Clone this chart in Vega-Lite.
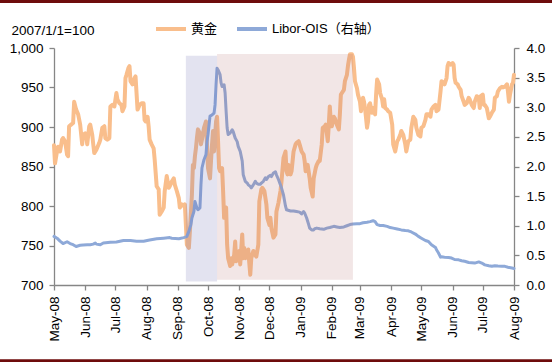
{
  "$schema": "https://vega.github.io/schema/vega-lite/v6.json",
  "width": 460,
  "height": 237,
  "autosize": {"type": "none"},
  "padding": {"left": 54, "top": 48, "right": 38, "bottom": 77},
  "background": "white",
  "config": {
    "view": {"stroke": null},
    "axis": {"labelFont": "Liberation Sans", "labelFontSize": 13.5, "labelColor": "#000000", "domainColor": "#868686", "tickColor": "#868686", "grid": false, "tickSize": 5, "domainWidth": 1.3, "tickWidth": 1.3}
  },
  "datasets": {
    "gold": [
      {"date":"2008-05-01","gold":877},{"date":"2008-05-02","gold":854},{"date":"2008-05-04","gold":869},{"date":"2008-05-05","gold":875},{"date":"2008-05-07","gold":869},{"date":"2008-05-09","gold":884},{"date":"2008-05-10","gold":886},{"date":"2008-05-12","gold":882},{"date":"2008-05-14","gold":865},{"date":"2008-05-15","gold":863},{"date":"2008-05-16","gold":901},{"date":"2008-05-18","gold":903},{"date":"2008-05-20","gold":905},{"date":"2008-05-21","gold":932},{"date":"2008-05-23","gold":922},{"date":"2008-05-25","gold":916},{"date":"2008-05-27","gold":903},{"date":"2008-05-29","gold":878},{"date":"2008-05-30","gold":890},
      {"date":"2008-06-01","gold":892},{"date":"2008-06-02","gold":890},{"date":"2008-06-03","gold":878},{"date":"2008-06-05","gold":901},{"date":"2008-06-06","gold":903},{"date":"2008-06-08","gold":890},{"date":"2008-06-09","gold":878},{"date":"2008-06-10","gold":867},{"date":"2008-06-12","gold":871},{"date":"2008-06-15","gold":880},{"date":"2008-06-16","gold":884},{"date":"2008-06-18","gold":899},{"date":"2008-06-20","gold":901},{"date":"2008-06-21","gold":886},{"date":"2008-06-23","gold":884},{"date":"2008-06-25","gold":886},{"date":"2008-06-26","gold":926},{"date":"2008-06-28","gold":928},{"date":"2008-06-30","gold":926},
      {"date":"2008-07-02","gold":943},{"date":"2008-07-03","gold":935},{"date":"2008-07-05","gold":930},{"date":"2008-07-07","gold":928},{"date":"2008-07-08","gold":920},{"date":"2008-07-10","gold":926},{"date":"2008-07-11","gold":962},{"date":"2008-07-12","gold":966},{"date":"2008-07-14","gold":975},{"date":"2008-07-15","gold":977},{"date":"2008-07-16","gold":958},{"date":"2008-07-18","gold":954},{"date":"2008-07-20","gold":962},{"date":"2008-07-21","gold":964},{"date":"2008-07-23","gold":922},{"date":"2008-07-25","gold":928},{"date":"2008-07-27","gold":930},{"date":"2008-07-29","gold":930},{"date":"2008-07-30","gold":909},{"date":"2008-07-31","gold":907},
      {"date":"2008-08-02","gold":913},{"date":"2008-08-03","gold":901},{"date":"2008-08-04","gold":884},{"date":"2008-08-06","gold":878},{"date":"2008-08-08","gold":873},{"date":"2008-08-09","gold":859},{"date":"2008-08-11","gold":825},{"date":"2008-08-13","gold":821},{"date":"2008-08-14","gold":789},{"date":"2008-08-16","gold":793},{"date":"2008-08-18","gold":798},{"date":"2008-08-19","gold":819},{"date":"2008-08-21","gold":838},{"date":"2008-08-23","gold":823},{"date":"2008-08-24","gold":825},{"date":"2008-08-26","gold":831},{"date":"2008-08-28","gold":835},{"date":"2008-08-29","gold":827},{"date":"2008-08-31","gold":819},
      {"date":"2008-09-02","gold":810},{"date":"2008-09-03","gold":798},{"date":"2008-09-05","gold":802},{"date":"2008-09-07","gold":800},{"date":"2008-09-08","gold":802},{"date":"2008-09-10","gold":751},{"date":"2008-09-12","gold":747},{"date":"2008-09-13","gold":768},{"date":"2008-09-15","gold":814},{"date":"2008-09-16","gold":852},{"date":"2008-09-17","gold":848},{"date":"2008-09-18","gold":863},{"date":"2008-09-19","gold":873},{"date":"2008-09-20","gold":886},{"date":"2008-09-21","gold":897},{"date":"2008-09-23","gold":892},{"date":"2008-09-24","gold":878},{"date":"2008-09-25","gold":884},{"date":"2008-09-27","gold":899},{"date":"2008-09-29","gold":907},{"date":"2008-09-30","gold":878},
      {"date":"2008-10-01","gold":848},{"date":"2008-10-03","gold":835},{"date":"2008-10-04","gold":857},{"date":"2008-10-05","gold":878},{"date":"2008-10-06","gold":895},{"date":"2008-10-07","gold":869},{"date":"2008-10-09","gold":907},{"date":"2008-10-10","gold":913},{"date":"2008-10-11","gold":882},{"date":"2008-10-12","gold":848},{"date":"2008-10-13","gold":844},{"date":"2008-10-15","gold":848},{"date":"2008-10-16","gold":819},{"date":"2008-10-17","gold":785},{"date":"2008-10-19","gold":798},{"date":"2008-10-20","gold":751},{"date":"2008-10-21","gold":734},{"date":"2008-10-23","gold":724},{"date":"2008-10-24","gold":734},{"date":"2008-10-25","gold":726},{"date":"2008-10-27","gold":738},{"date":"2008-10-28","gold":755},{"date":"2008-10-29","gold":730},{"date":"2008-10-31","gold":734},
      {"date":"2008-11-01","gold":743},{"date":"2008-11-02","gold":726},{"date":"2008-11-04","gold":764},{"date":"2008-11-05","gold":734},{"date":"2008-11-06","gold":747},{"date":"2008-11-07","gold":734},{"date":"2008-11-09","gold":738},{"date":"2008-11-10","gold":745},{"date":"2008-11-11","gold":728},{"date":"2008-11-12","gold":713},{"date":"2008-11-13","gold":734},{"date":"2008-11-15","gold":743},{"date":"2008-11-17","gold":738},{"date":"2008-11-18","gold":736},{"date":"2008-11-20","gold":751},{"date":"2008-11-21","gold":806},{"date":"2008-11-23","gold":821},{"date":"2008-11-24","gold":823},{"date":"2008-11-26","gold":819},{"date":"2008-11-28","gold":802},{"date":"2008-11-29","gold":785},
      {"date":"2008-12-01","gold":776},{"date":"2008-12-02","gold":785},{"date":"2008-12-03","gold":772},{"date":"2008-12-05","gold":760},{"date":"2008-12-07","gold":764},{"date":"2008-12-08","gold":793},{"date":"2008-12-10","gold":804},{"date":"2008-12-12","gold":819},{"date":"2008-12-13","gold":831},{"date":"2008-12-15","gold":861},{"date":"2008-12-17","gold":869},{"date":"2008-12-18","gold":844},{"date":"2008-12-19","gold":840},{"date":"2008-12-20","gold":852},{"date":"2008-12-22","gold":840},{"date":"2008-12-23","gold":844},{"date":"2008-12-25","gold":869},{"date":"2008-12-27","gold":878},{"date":"2008-12-28","gold":880},{"date":"2008-12-30","gold":882},{"date":"2008-12-31","gold":878},
      {"date":"2009-01-02","gold":869},{"date":"2009-01-04","gold":865},{"date":"2009-01-05","gold":857},{"date":"2009-01-06","gold":844},{"date":"2009-01-08","gold":852},{"date":"2009-01-10","gold":835},{"date":"2009-01-11","gold":823},{"date":"2009-01-13","gold":812},{"date":"2009-01-14","gold":835},{"date":"2009-01-16","gold":848},{"date":"2009-01-17","gold":852},{"date":"2009-01-19","gold":857},{"date":"2009-01-20","gold":857},{"date":"2009-01-22","gold":878},{"date":"2009-01-23","gold":899},{"date":"2009-01-25","gold":901},{"date":"2009-01-26","gold":903},{"date":"2009-01-28","gold":882},{"date":"2009-01-29","gold":903},{"date":"2009-01-30","gold":926},{"date":"2009-01-31","gold":907},
      {"date":"2009-02-01","gold":901},{"date":"2009-02-03","gold":913},{"date":"2009-02-04","gold":911},{"date":"2009-02-06","gold":903},{"date":"2009-02-08","gold":897},{"date":"2009-02-09","gold":916},{"date":"2009-02-10","gold":941},{"date":"2009-02-11","gold":943},{"date":"2009-02-13","gold":947},{"date":"2009-02-14","gold":958},{"date":"2009-02-16","gold":966},{"date":"2009-02-17","gold":977},{"date":"2009-02-18","gold":985},{"date":"2009-02-19","gold":992},{"date":"2009-02-21","gold":992},{"date":"2009-02-22","gold":989},{"date":"2009-02-23","gold":975},{"date":"2009-02-24","gold":958},{"date":"2009-02-26","gold":949},{"date":"2009-02-27","gold":941},
      {"date":"2009-03-01","gold":932},{"date":"2009-03-02","gold":920},{"date":"2009-03-04","gold":937},{"date":"2009-03-05","gold":932},{"date":"2009-03-06","gold":924},{"date":"2009-03-08","gold":899},{"date":"2009-03-09","gold":907},{"date":"2009-03-10","gold":928},{"date":"2009-03-11","gold":930},{"date":"2009-03-13","gold":918},{"date":"2009-03-14","gold":924},{"date":"2009-03-16","gold":916},{"date":"2009-03-17","gold":941},{"date":"2009-03-18","gold":960},{"date":"2009-03-20","gold":954},{"date":"2009-03-21","gold":943},{"date":"2009-03-23","gold":935},{"date":"2009-03-24","gold":926},{"date":"2009-03-25","gold":935},{"date":"2009-03-26","gold":924},{"date":"2009-03-28","gold":922},{"date":"2009-03-29","gold":920},{"date":"2009-03-31","gold":918},
      {"date":"2009-04-02","gold":903},{"date":"2009-04-03","gold":878},{"date":"2009-04-05","gold":869},{"date":"2009-04-07","gold":882},{"date":"2009-04-08","gold":884},{"date":"2009-04-10","gold":890},{"date":"2009-04-11","gold":895},{"date":"2009-04-13","gold":890},{"date":"2009-04-15","gold":878},{"date":"2009-04-16","gold":869},{"date":"2009-04-18","gold":882},{"date":"2009-04-20","gold":884},{"date":"2009-04-21","gold":899},{"date":"2009-04-23","gold":913},{"date":"2009-04-25","gold":909},{"date":"2009-04-26","gold":899},{"date":"2009-04-28","gold":890},{"date":"2009-04-30","gold":888},
      {"date":"2009-05-01","gold":899},{"date":"2009-05-03","gold":901},{"date":"2009-05-05","gold":909},{"date":"2009-05-06","gold":916},{"date":"2009-05-08","gold":916},{"date":"2009-05-10","gold":913},{"date":"2009-05-11","gold":922},{"date":"2009-05-13","gold":926},{"date":"2009-05-15","gold":928},{"date":"2009-05-16","gold":920},{"date":"2009-05-18","gold":922},{"date":"2009-05-20","gold":945},{"date":"2009-05-21","gold":958},{"date":"2009-05-23","gold":956},{"date":"2009-05-24","gold":954},{"date":"2009-05-26","gold":962},{"date":"2009-05-27","gold":977},{"date":"2009-05-28","gold":981},{"date":"2009-05-30","gold":979},
      {"date":"2009-06-01","gold":981},{"date":"2009-06-02","gold":979},{"date":"2009-06-03","gold":962},{"date":"2009-06-04","gold":956},{"date":"2009-06-06","gold":954},{"date":"2009-06-07","gold":951},{"date":"2009-06-09","gold":947},{"date":"2009-06-10","gold":939},{"date":"2009-06-12","gold":932},{"date":"2009-06-13","gold":928},{"date":"2009-06-15","gold":930},{"date":"2009-06-17","gold":937},{"date":"2009-06-18","gold":935},{"date":"2009-06-20","gold":928},{"date":"2009-06-22","gold":924},{"date":"2009-06-23","gold":932},{"date":"2009-06-25","gold":939},{"date":"2009-06-27","gold":937},{"date":"2009-06-28","gold":924},{"date":"2009-06-29","gold":939},
      {"date":"2009-07-01","gold":941},{"date":"2009-07-02","gold":928},{"date":"2009-07-03","gold":928},{"date":"2009-07-05","gold":924},{"date":"2009-07-07","gold":911},{"date":"2009-07-08","gold":913},{"date":"2009-07-10","gold":918},{"date":"2009-07-12","gold":922},{"date":"2009-07-13","gold":937},{"date":"2009-07-15","gold":939},{"date":"2009-07-16","gold":945},{"date":"2009-07-18","gold":949},{"date":"2009-07-20","gold":951},{"date":"2009-07-21","gold":950},{"date":"2009-07-23","gold":951},{"date":"2009-07-25","gold":954},{"date":"2009-07-26","gold":945},{"date":"2009-07-27","gold":932},{"date":"2009-07-28","gold":941},{"date":"2009-07-30","gold":954},{"date":"2009-07-31","gold":956},{"date":"2009-08-01","gold":966}
    ],
    "libor": [
      {"date":"2008-05-01","libor":0.82},{"date":"2008-05-04","libor":0.79},{"date":"2008-05-07","libor":0.74},{"date":"2008-05-10","libor":0.70},{"date":"2008-05-14","libor":0.73},{"date":"2008-05-17","libor":0.70},{"date":"2008-05-20","libor":0.68},{"date":"2008-05-23","libor":0.65},{"date":"2008-05-27","libor":0.67},{"date":"2008-05-30","libor":0.675},
      {"date":"2008-06-03","libor":0.68},{"date":"2008-06-06","libor":0.68},{"date":"2008-06-09","libor":0.69},{"date":"2008-06-11","libor":0.71},{"date":"2008-06-12","libor":0.69},{"date":"2008-06-16","libor":0.68},{"date":"2008-06-19","libor":0.71},{"date":"2008-06-26","libor":0.72},
      {"date":"2008-07-02","libor":0.726},{"date":"2008-07-09","libor":0.75},{"date":"2008-07-16","libor":0.75},{"date":"2008-07-22","libor":0.74},{"date":"2008-07-29","libor":0.74},
      {"date":"2008-08-04","libor":0.76},{"date":"2008-08-11","libor":0.78},{"date":"2008-08-18","libor":0.79},{"date":"2008-08-24","libor":0.80},{"date":"2008-08-26","libor":0.79},
      {"date":"2008-09-02","libor":0.78},{"date":"2008-09-07","libor":0.80},{"date":"2008-09-10","libor":0.82},{"date":"2008-09-12","libor":0.905},{"date":"2008-09-14","libor":1.02},{"date":"2008-09-15","libor":1.13},{"date":"2008-09-17","libor":1.24},{"date":"2008-09-18","libor":1.41},{"date":"2008-09-20","libor":1.30},{"date":"2008-09-21","libor":1.27},{"date":"2008-09-23","libor":1.30},{"date":"2008-09-24","libor":1.69},{"date":"2008-09-25","libor":1.975},{"date":"2008-09-27","libor":2.115},{"date":"2008-09-29","libor":2.2},{"date":"2008-09-30","libor":2.42},
      {"date":"2008-10-01","libor":2.54},{"date":"2008-10-03","libor":2.85},{"date":"2008-10-05","libor":2.87},{"date":"2008-10-07","libor":2.90},{"date":"2008-10-08","libor":3.04},{"date":"2008-10-09","libor":3.38},{"date":"2008-10-10","libor":3.66},{"date":"2008-10-11","libor":3.63},{"date":"2008-10-13","libor":3.55},{"date":"2008-10-14","libor":3.41},{"date":"2008-10-15","libor":3.35},{"date":"2008-10-17","libor":3.38},{"date":"2008-10-18","libor":3.24},{"date":"2008-10-19","libor":2.93},{"date":"2008-10-20","libor":2.65},{"date":"2008-10-21","libor":2.54},{"date":"2008-10-23","libor":2.565},{"date":"2008-10-25","libor":2.62},{"date":"2008-10-26","libor":2.59},{"date":"2008-10-28","libor":2.48},{"date":"2008-10-30","libor":2.42},{"date":"2008-10-31","libor":2.34},
      {"date":"2008-11-02","libor":2.255},{"date":"2008-11-04","libor":2.09},{"date":"2008-11-05","libor":1.86},{"date":"2008-11-07","libor":1.75},{"date":"2008-11-09","libor":1.72},{"date":"2008-11-10","libor":1.69},{"date":"2008-11-12","libor":1.665},{"date":"2008-11-13","libor":1.64},{"date":"2008-11-15","libor":1.69},{"date":"2008-11-17","libor":1.75},{"date":"2008-11-18","libor":1.72},{"date":"2008-11-20","libor":1.70},{"date":"2008-11-22","libor":1.70},{"date":"2008-11-23","libor":1.72},{"date":"2008-11-25","libor":1.75},{"date":"2008-11-27","libor":1.81},{"date":"2008-11-28","libor":1.78},{"date":"2008-11-30","libor":1.83},
      {"date":"2008-12-02","libor":1.85},{"date":"2008-12-03","libor":1.83},{"date":"2008-12-05","libor":1.89},{"date":"2008-12-07","libor":1.91},{"date":"2008-12-08","libor":1.86},{"date":"2008-12-10","libor":1.78},{"date":"2008-12-12","libor":1.69},{"date":"2008-12-13","libor":1.64},{"date":"2008-12-15","libor":1.52},{"date":"2008-12-17","libor":1.33},{"date":"2008-12-18","libor":1.27},{"date":"2008-12-22","libor":1.25},{"date":"2008-12-25","libor":1.25},{"date":"2008-12-28","libor":1.24},{"date":"2008-12-31","libor":1.23},
      {"date":"2009-01-02","libor":1.20},{"date":"2009-01-04","libor":1.24},{"date":"2009-01-05","libor":1.215},{"date":"2009-01-07","libor":1.13},{"date":"2009-01-09","libor":1.02},{"date":"2009-01-10","libor":0.96},{"date":"2009-01-12","libor":0.93},{"date":"2009-01-14","libor":0.93},{"date":"2009-01-15","libor":0.95},{"date":"2009-01-17","libor":0.96},{"date":"2009-01-20","libor":0.95},{"date":"2009-01-24","libor":0.94},{"date":"2009-01-27","libor":0.96},{"date":"2009-01-30","libor":0.97},
      {"date":"2009-02-03","libor":0.99},{"date":"2009-02-06","libor":0.98},{"date":"2009-02-09","libor":0.97},{"date":"2009-02-13","libor":0.98},{"date":"2009-02-16","libor":1.0},{"date":"2009-02-19","libor":1.02},{"date":"2009-02-22","libor":1.03},{"date":"2009-02-26","libor":1.035},
      {"date":"2009-03-01","libor":1.035},{"date":"2009-03-04","libor":1.05},{"date":"2009-03-08","libor":1.06},{"date":"2009-03-11","libor":1.07},{"date":"2009-03-14","libor":1.085},{"date":"2009-03-16","libor":1.07},{"date":"2009-03-18","libor":1.02},{"date":"2009-03-21","libor":1.005},{"date":"2009-03-24","libor":1.005},{"date":"2009-03-28","libor":0.99},{"date":"2009-03-31","libor":0.97},
      {"date":"2009-04-03","libor":0.96},{"date":"2009-04-07","libor":0.945},{"date":"2009-04-11","libor":0.93},{"date":"2009-04-15","libor":0.92},{"date":"2009-04-18","libor":0.915},{"date":"2009-04-21","libor":0.895},{"date":"2009-04-25","libor":0.86},{"date":"2009-04-28","libor":0.82},
      {"date":"2009-05-01","libor":0.79},{"date":"2009-05-05","libor":0.75},{"date":"2009-05-08","libor":0.735},{"date":"2009-05-11","libor":0.68},{"date":"2009-05-15","libor":0.635},{"date":"2009-05-16","libor":0.595},{"date":"2009-05-18","libor":0.54},{"date":"2009-05-20","libor":0.47},{"date":"2009-05-21","libor":0.475},{"date":"2009-05-24","libor":0.47},{"date":"2009-05-28","libor":0.465},{"date":"2009-05-31","libor":0.455},
      {"date":"2009-06-03","libor":0.43},{"date":"2009-06-07","libor":0.425},{"date":"2009-06-10","libor":0.41},{"date":"2009-06-13","libor":0.40},{"date":"2009-06-17","libor":0.38},{"date":"2009-06-20","libor":0.375},{"date":"2009-06-23","libor":0.37},{"date":"2009-06-27","libor":0.39},{"date":"2009-06-30","libor":0.37},
      {"date":"2009-07-03","libor":0.34},{"date":"2009-07-07","libor":0.325},{"date":"2009-07-10","libor":0.315},{"date":"2009-07-13","libor":0.325},{"date":"2009-07-16","libor":0.32},{"date":"2009-07-20","libor":0.315},{"date":"2009-07-23","libor":0.315},{"date":"2009-07-26","libor":0.30},{"date":"2009-07-30","libor":0.287},{"date":"2009-08-01","libor":0.28}
    ]
  },
  "layer": [
    {
      "layer": [
        {
          "data": {"name": "gold"},
          "mark": {"type": "line", "strokeWidth": 4, "strokeJoin": "round", "strokeCap": "round"},
          "encoding": {
            "x": {"field": "date", "type": "temporal", "title": null,
              "scale": {"type": "utc", "domain": [{"year": 2008, "month": 5, "date": 1, "utc": true}, {"year": 2009, "month": 8, "date": 1, "utc": true}]},
              "axis": {"values": [{"year": 2008, "month": 5, "date": 1, "utc": true}, {"year": 2008, "month": 6, "date": 1, "utc": true}, {"year": 2008, "month": 7, "date": 1, "utc": true}, {"year": 2008, "month": 8, "date": 1, "utc": true}, {"year": 2008, "month": 9, "date": 1, "utc": true}, {"year": 2008, "month": 10, "date": 1, "utc": true}, {"year": 2008, "month": 11, "date": 1, "utc": true}, {"year": 2008, "month": 12, "date": 1, "utc": true}, {"year": 2009, "month": 1, "date": 1, "utc": true}, {"year": 2009, "month": 2, "date": 1, "utc": true}, {"year": 2009, "month": 3, "date": 1, "utc": true}, {"year": 2009, "month": 4, "date": 1, "utc": true}, {"year": 2009, "month": 5, "date": 1, "utc": true}, {"year": 2009, "month": 6, "date": 1, "utc": true}, {"year": 2009, "month": 7, "date": 1, "utc": true}, {"year": 2009, "month": 8, "date": 1, "utc": true}], "format": "%b-%y", "labelAngle": -90, "labelPadding": 6, "labelFlush": false, "labelOverlap": false, "labelBound": false}},
            "y": {"field": "gold", "type": "quantitative",
              "scale": {"domain": [700, 1000], "nice": false, "zero": false},
              "axis": {"orient": "left", "values": [700, 750, 800, 850, 900, 950, 1000], "format": ",.0f", "labelPadding": 6, "title": "2007/1/1=100", "titleAngle": 0, "titleAlign": "left", "titleBaseline": "alphabetic", "titleX": -43, "titleY": -14, "titleFont": "Liberation Sans", "titleFontSize": 13.5, "titleFontWeight": "normal", "titleColor": "#000000"}},
            "color": {
              "datum": "黄金",
              "scale": {"domain": ["黄金", "Libor-OIS（右轴）"], "range": ["#F9BE8C", "#8EA9D8"]},
              "legend": {"orient": "none", "legendX": 100, "legendY": -36, "direction": "horizontal", "title": null, "symbolType": "stroke", "symbolSize": 900, "symbolStrokeWidth": 4, "symbolOpacity": 1, "labelFont": "Liberation Sans, Noto Sans CJK SC", "labelFontSize": 13, "labelColor": "#000000", "labelOffset": 3, "columnPadding": 11}
            }
          }
        },
        {
          "data": {"values": [{"date": "2008-03-05", "end": "2009-09-10", "gold": 1059}, {"date": "2008-03-05", "end": "2009-09-10", "gold": 604}]},
          "mark": {"type": "rule", "color": "#6E0C0C", "strokeWidth": 3, "clip": false},
          "encoding": {
            "x": {"field": "date", "type": "temporal", "title": null,
              "scale": {"type": "utc", "domain": [{"year": 2008, "month": 5, "date": 1, "utc": true}, {"year": 2009, "month": 8, "date": 1, "utc": true}]},
              "axis": {"values": [{"year": 2008, "month": 5, "date": 1, "utc": true}, {"year": 2008, "month": 6, "date": 1, "utc": true}, {"year": 2008, "month": 7, "date": 1, "utc": true}, {"year": 2008, "month": 8, "date": 1, "utc": true}, {"year": 2008, "month": 9, "date": 1, "utc": true}, {"year": 2008, "month": 10, "date": 1, "utc": true}, {"year": 2008, "month": 11, "date": 1, "utc": true}, {"year": 2008, "month": 12, "date": 1, "utc": true}, {"year": 2009, "month": 1, "date": 1, "utc": true}, {"year": 2009, "month": 2, "date": 1, "utc": true}, {"year": 2009, "month": 3, "date": 1, "utc": true}, {"year": 2009, "month": 4, "date": 1, "utc": true}, {"year": 2009, "month": 5, "date": 1, "utc": true}, {"year": 2009, "month": 6, "date": 1, "utc": true}, {"year": 2009, "month": 7, "date": 1, "utc": true}, {"year": 2009, "month": 8, "date": 1, "utc": true}], "format": "%b-%y", "labelAngle": -90, "labelPadding": 6, "labelFlush": false, "labelOverlap": false, "labelBound": false}},
            "x2": {"field": "end"},
            "y": {"field": "gold", "type": "quantitative",
              "scale": {"domain": [700, 1000], "nice": false, "zero": false},
              "axis": {"orient": "left", "values": [700, 750, 800, 850, 900, 950, 1000], "format": ",.0f", "labelPadding": 6, "title": "2007/1/1=100", "titleAngle": 0, "titleAlign": "left", "titleBaseline": "alphabetic", "titleX": -43, "titleY": -14, "titleFont": "Liberation Sans", "titleFontSize": 13.5, "titleFontWeight": "normal", "titleColor": "#000000"}}
          }
        }
      ]
    },
    {
      "layer": [
        {
          "data": {"name": "libor"},
          "mark": {"type": "line", "strokeWidth": 3, "strokeJoin": "round", "strokeCap": "round"},
          "encoding": {
            "x": {"field": "date", "type": "temporal", "title": null,
              "scale": {"type": "utc", "domain": [{"year": 2008, "month": 5, "date": 1, "utc": true}, {"year": 2009, "month": 8, "date": 1, "utc": true}]},
              "axis": {"values": [{"year": 2008, "month": 5, "date": 1, "utc": true}, {"year": 2008, "month": 6, "date": 1, "utc": true}, {"year": 2008, "month": 7, "date": 1, "utc": true}, {"year": 2008, "month": 8, "date": 1, "utc": true}, {"year": 2008, "month": 9, "date": 1, "utc": true}, {"year": 2008, "month": 10, "date": 1, "utc": true}, {"year": 2008, "month": 11, "date": 1, "utc": true}, {"year": 2008, "month": 12, "date": 1, "utc": true}, {"year": 2009, "month": 1, "date": 1, "utc": true}, {"year": 2009, "month": 2, "date": 1, "utc": true}, {"year": 2009, "month": 3, "date": 1, "utc": true}, {"year": 2009, "month": 4, "date": 1, "utc": true}, {"year": 2009, "month": 5, "date": 1, "utc": true}, {"year": 2009, "month": 6, "date": 1, "utc": true}, {"year": 2009, "month": 7, "date": 1, "utc": true}, {"year": 2009, "month": 8, "date": 1, "utc": true}], "format": "%b-%y", "labelAngle": -90, "labelPadding": 6, "labelFlush": false, "labelOverlap": false, "labelBound": false}},
            "y": {"field": "libor", "type": "quantitative",
              "scale": {"domain": [0, 4], "nice": false},
              "axis": {"orient": "right", "values": [0, 0.5, 1, 1.5, 2, 2.5, 3, 3.5, 4], "format": ".1f", "title": null, "labelPadding": 7}},
            "color": {"datum": "Libor-OIS（右轴）"}
          }
        },
        {
          "data": {"values": [{"date": "2008-09-09", "end": "2008-10-10", "libor": 3.87, "low": 0.06}]},
          "mark": {"type": "rect", "color": "#6666AA", "opacity": 0.18},
          "encoding": {
            "x": {"field": "date", "type": "temporal", "title": null,
              "scale": {"type": "utc", "domain": [{"year": 2008, "month": 5, "date": 1, "utc": true}, {"year": 2009, "month": 8, "date": 1, "utc": true}]},
              "axis": {"values": [{"year": 2008, "month": 5, "date": 1, "utc": true}, {"year": 2008, "month": 6, "date": 1, "utc": true}, {"year": 2008, "month": 7, "date": 1, "utc": true}, {"year": 2008, "month": 8, "date": 1, "utc": true}, {"year": 2008, "month": 9, "date": 1, "utc": true}, {"year": 2008, "month": 10, "date": 1, "utc": true}, {"year": 2008, "month": 11, "date": 1, "utc": true}, {"year": 2008, "month": 12, "date": 1, "utc": true}, {"year": 2009, "month": 1, "date": 1, "utc": true}, {"year": 2009, "month": 2, "date": 1, "utc": true}, {"year": 2009, "month": 3, "date": 1, "utc": true}, {"year": 2009, "month": 4, "date": 1, "utc": true}, {"year": 2009, "month": 5, "date": 1, "utc": true}, {"year": 2009, "month": 6, "date": 1, "utc": true}, {"year": 2009, "month": 7, "date": 1, "utc": true}, {"year": 2009, "month": 8, "date": 1, "utc": true}], "format": "%b-%y", "labelAngle": -90, "labelPadding": 6, "labelFlush": false, "labelOverlap": false, "labelBound": false}},
            "x2": {"field": "end"},
            "y": {"field": "libor", "type": "quantitative",
              "scale": {"domain": [0, 4], "nice": false},
              "axis": {"orient": "right", "values": [0, 0.5, 1, 1.5, 2, 2.5, 3, 3.5, 4], "format": ".1f", "title": null, "labelPadding": 7}},
            "y2": {"field": "low"}
          }
        },
        {
          "data": {"values": [{"date": "2008-10-10", "end": "2009-02-22", "libor": 3.9, "low": 0.09}]},
          "mark": {"type": "rect", "color": "#B36B6B", "opacity": 0.17},
          "encoding": {
            "x": {"field": "date", "type": "temporal", "title": null,
              "scale": {"type": "utc", "domain": [{"year": 2008, "month": 5, "date": 1, "utc": true}, {"year": 2009, "month": 8, "date": 1, "utc": true}]},
              "axis": {"values": [{"year": 2008, "month": 5, "date": 1, "utc": true}, {"year": 2008, "month": 6, "date": 1, "utc": true}, {"year": 2008, "month": 7, "date": 1, "utc": true}, {"year": 2008, "month": 8, "date": 1, "utc": true}, {"year": 2008, "month": 9, "date": 1, "utc": true}, {"year": 2008, "month": 10, "date": 1, "utc": true}, {"year": 2008, "month": 11, "date": 1, "utc": true}, {"year": 2008, "month": 12, "date": 1, "utc": true}, {"year": 2009, "month": 1, "date": 1, "utc": true}, {"year": 2009, "month": 2, "date": 1, "utc": true}, {"year": 2009, "month": 3, "date": 1, "utc": true}, {"year": 2009, "month": 4, "date": 1, "utc": true}, {"year": 2009, "month": 5, "date": 1, "utc": true}, {"year": 2009, "month": 6, "date": 1, "utc": true}, {"year": 2009, "month": 7, "date": 1, "utc": true}, {"year": 2009, "month": 8, "date": 1, "utc": true}], "format": "%b-%y", "labelAngle": -90, "labelPadding": 6, "labelFlush": false, "labelOverlap": false, "labelBound": false}},
            "x2": {"field": "end"},
            "y": {"field": "libor", "type": "quantitative",
              "scale": {"domain": [0, 4], "nice": false},
              "axis": {"orient": "right", "values": [0, 0.5, 1, 1.5, 2, 2.5, 3, 3.5, 4], "format": ".1f", "title": null, "labelPadding": 7}},
            "y2": {"field": "low"}
          }
        }
      ]
    }
  ],
  "resolve": {"scale": {"y": "independent"}}
}
